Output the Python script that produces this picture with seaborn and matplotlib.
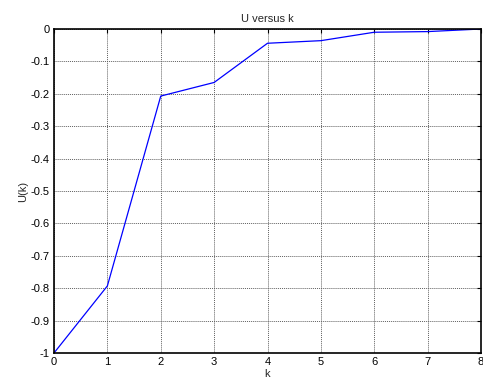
import numpy as np
import pandas as pd
import matplotlib
matplotlib.use("Agg")
import matplotlib.pyplot as plt
import seaborn as sns

# values
k_values = [0, 1, 2, 3, 4, 5, 6, 7, 8]
u_values = [-1.0, -0.793, -0.207, -0.165, -0.044, -0.036, -0.010, -0.008, 0.0]
x_ticks = [0, 1, 2, 3, 4, 5, 6, 7, 8]
y_ticks = [-1, -0.9, -0.8, -0.7, -0.6, -0.5, -0.4, -0.3, -0.2, -0.1, 0]
y_tick_labels = ["-1", "-0.9", "-0.8", "-0.7", "-0.6", "-0.5", "-0.4", "-0.3", "-0.2", "-0.1", "0"]

sns.set_style("white")
plt.rcParams['font.family'] = ['Liberation Sans', 'DejaVu Sans']

df = pd.DataFrame({"k": k_values, "U": u_values})

fig = plt.figure(figsize=(4.83, 3.85), dpi=100)
ax = fig.add_axes([54 / 483, 32 / 385, 427 / 483, 324 / 385])

sns.lineplot(data=df, x="k", y="U", color="blue", linewidth=0.9, ax=ax)

ax.set_xlim(0, 8)
ax.set_ylim(-1, 0)
ax.set_xticks(x_ticks)
ax.set_yticks(y_ticks)
ax.set_yticklabels(y_tick_labels)
ax.grid(True, color="#606060", linestyle=(0, (1, 1)), linewidth=0.7)
ax.tick_params(direction="in", length=3, width=0.8, labelsize=8, colors="black",
               top=True, right=True, pad=3)
for s in ax.spines.values():
    s.set_color("black")
    s.set_linewidth(1.2)

ax.set_title("U versus k", fontsize=8, pad=5)
ax.set_xlabel("k", fontsize=8, labelpad=1)
ax.set_ylabel("U(k)", fontsize=8, labelpad=2)

fig.savefig("out.png", dpi=100)
